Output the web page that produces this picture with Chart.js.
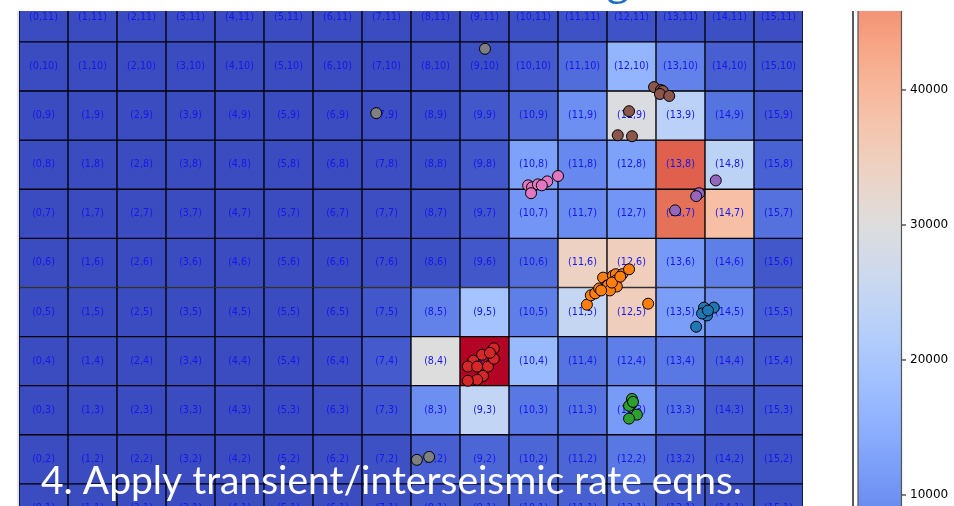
<!DOCTYPE html>
<html>
<head>
<meta charset="utf-8">
<script src="https://cdn.jsdelivr.net/npm/chart.js@4.4.0/dist/chart.umd.min.js"></script>
<style>
  html, body { margin: 0; padding: 0; background: #fff; overflow: hidden; }
</style>
</head>
<body>
<canvas id="grid" width="954" height="506"></canvas>
<script>
// grid columns / rows (row 0 at the bottom)
const COLS = [0, 1, 2, 3, 4, 5, 6, 7, 8, 9, 10, 11, 12, 13, 14, 15];
const ROWS = [0, 1, 2, 3, 4, 5, 6, 7, 8, 9, 10, 11];

// cell values, one array per row, index = column
const row0  = [0, 0, 0, 0, 0, 0, 0, 0, 500, 800, 800, 800, 1000, 500, 300, 0];
const row1  = [0, 0, 0, 0, 0, 0, 0, 300, 1500, 2000, 2500, 2500, 3500, 1500, 800, 500];
const row2  = [0, 0, 0, 0, 0, 0, 300, 700, 2500, 3500, 3500, 3500, 6000, 2500, 1500, 800];
const row3  = [0, 0, 0, 0, 0, 0, 300, 1500, 9500, 24500, 6000, 5500, 11500, 5500, 2000, 1500];
const row4  = [0, 0, 0, 0, 0, 0, 300, 2000, 30000, 60000, 17000, 5500, 7000, 6000, 3500, 2000];
const row5  = [0, 0, 0, 0, 0, 0, 300, 1500, 7500, 19000, 7000, 25000, 35000, 12000, 9500, 2500];
const row6  = [0, 0, 0, 0, 0, 0, 0, 300, 500, 1500, 4500, 34000, 35000, 11000, 7000, 1500];
const row7  = [0, 0, 0, 0, 0, 0, 0, 300, 500, 1500, 10500, 9000, 10500, 50500, 38500, 5000];
const row8  = [0, 0, 0, 0, 0, 0, 0, 300, 500, 1500, 12500, 8500, 12500, 52500, 23500, 3000];
const row9  = [0, 0, 0, 0, 0, 0, 0, 300, 500, 1500, 3500, 9500, 29500, 23000, 5500, 2000];
const row10 = [0, 0, 0, 0, 0, 0, 0, 0, 300, 500, 2000, 4500, 16000, 7500, 2500, 1500];
const row11 = [0, 0, 0, 0, 0, 0, 0, 0, 0, 300, 500, 800, 1000, 800, 500, 300];
const heatRows = [row0, row1, row2, row3, row4, row5, row6, row7, row8, row9, row10, row11];

// colour scale limits and colourbar ticks
const vmin = 0;
const vmax = 60000;
const cbTicks = [10000, 20000, 30000, 40000];

// event clusters [x, y]
const grayPts   = [[9.01, 10.36], [6.79, 9.05], [7.62, 1.99], [7.87, 2.05]];
const brownPts  = [[12.46, 9.58], [12.60, 9.52], [12.64, 9.50], [12.58, 9.44], [12.77, 9.40],
                   [11.95, 9.09], [11.72, 8.60], [12.01, 8.58]];
const pinkPts   = [[9.89, 7.58], [9.97, 7.54], [10.09, 7.60], [10.28, 7.66], [10.50, 7.77],
                   [9.95, 7.42], [10.17, 7.58]];
const purplePts = [[13.72, 7.68], [13.38, 7.42], [13.32, 7.36], [12.89, 7.07]];
const orangePts = [[11.09, 5.15], [11.17, 5.34], [11.26, 5.38], [11.34, 5.48], [11.42, 5.70],
                   [11.50, 5.54], [11.62, 5.74], [11.68, 5.77], [11.52, 5.54], [11.68, 5.64],
                   [11.81, 5.77], [11.95, 5.87], [12.34, 5.17], [11.70, 5.52], [11.56, 5.44],
                   [11.38, 5.44], [11.60, 5.60], [11.77, 5.72]];
const bluePts   = [[13.48, 5.09], [13.68, 5.09], [13.54, 4.93], [13.44, 4.97], [13.32, 4.70],
                   [13.56, 5.03]];
const redPts    = [[9.19, 4.26], [8.95, 4.13], [8.77, 4.01], [8.66, 3.89], [8.85, 3.89],
                   [9.07, 3.89], [9.19, 4.05], [8.97, 3.70], [8.85, 3.62], [8.66, 3.60],
                   [9.11, 4.17]];
const greenPts  = [[12.01, 3.23], [11.99, 3.11], [11.95, 3.09], [12.11, 2.91], [11.95, 2.83],
                   [12.03, 3.17]];

// coolwarm colormap
const CW = [
  [59,76,192],[68,90,204],[77,104,215],[87,117,225],[98,130,234],[108,142,241],[119,154,247],
  [130,165,251],[141,176,254],[152,185,255],[163,194,255],[174,201,253],[184,208,249],
  [194,213,244],[204,217,238],[213,219,230],[221,221,221],[229,216,209],[236,211,197],
  [241,204,185],[245,196,173],[247,187,160],[247,177,148],[247,166,135],[244,154,123],
  [241,141,111],[236,127,99],[229,112,88],[222,96,77],[213,80,66],[203,62,56],[192,40,47],[180,4,38]
];
function coolwarm(t) {
  t = Math.max(0, Math.min(1, t)) * (CW.length - 1);
  const i = Math.min(Math.floor(t), CW.length - 2), f = t - i;
  const c = CW[i].map((v, k) => Math.round(v + (CW[i + 1][k] - v) * f));
  return `rgb(${c[0]},${c[1]},${c[2]})`;
}
const norm = v => (v - vmin) / (vmax - vmin);

// heatmap cells as floating bars
const cellData = [];
const cellColors = [];
ROWS.forEach(r => COLS.forEach(c => {
  cellData.push({ x: c, y: [r - 0.5, r + 0.5] });
  cellColors.push(coolwarm(norm(heatRows[r][c])));
}));

const clusters = [
  [grayPts, '#7f7f7f'], [brownPts, '#8c564b'], [pinkPts, '#e377c2'], [purplePts, '#9467bd'],
  [orangePts, '#ff7f0e'], [bluePts, '#1f77b4'], [redPts, '#d62728'], [greenPts, '#2ca02c']
];

// "(col,row)" text in each cell, drawn under the points
const cellLabels = {
  id: 'cellLabels',
  afterDatasetDraw(chart, args) {
    if (args.index !== 0) return;
    const { ctx, chartArea: a, scales: { x, y } } = chart;
    ctx.save();
    ctx.beginPath();
    ctx.rect(a.left, a.top, a.right - a.left, a.bottom - a.top);
    ctx.clip();
    ctx.font = '9.6px "DejaVu Sans"';
    ctx.fillStyle = '#1616ee';
    ctx.textAlign = 'center';
    ctx.textBaseline = 'middle';
    ROWS.forEach(r => COLS.forEach(c => {
      ctx.fillText(`(${c},${r})`, x.getPixelForValue(c), y.getPixelForValue(r));
    }));
    ctx.restore();
  }
};

// colourbar, slide text and frame lines
const overlay = {
  id: 'overlay',
  afterDraw(chart) {
    const { ctx, chartArea: a } = chart;
    const cb = chart.scales.cb;
    ctx.save();

    // colourbar body
    const g = ctx.createLinearGradient(0, a.top, 0, a.bottom);
    for (let i = 0; i <= 30; i++) {
      const py = a.top + (a.bottom - a.top) * i / 30;
      g.addColorStop(i / 30, coolwarm(norm(cb.getValueForPixel(py))));
    }
    ctx.fillStyle = g;
    ctx.fillRect(858, a.top, 43, a.bottom - a.top);
    ctx.strokeStyle = '#555';
    ctx.lineWidth = 1.2;
    ctx.beginPath();
    ctx.moveTo(858, a.top); ctx.lineTo(858, a.bottom);
    ctx.moveTo(901.5, a.top); ctx.lineTo(901.5, a.bottom);
    ctx.stroke();

    // thin frame line left of the colourbar
    ctx.strokeStyle = '#222';
    ctx.lineWidth = 1.5;
    ctx.beginPath();
    ctx.moveTo(853, a.top); ctx.lineTo(853, a.bottom);
    ctx.stroke();

    // faint image edge on the left
    ctx.strokeStyle = '#c8c8c8';
    ctx.lineWidth = 1;
    ctx.beginPath();
    ctx.moveTo(18, a.top); ctx.lineTo(18, a.bottom);
    ctx.stroke();

    // colourbar ticks
    ctx.strokeStyle = '#000';
    ctx.lineWidth = 1;
    ctx.fillStyle = '#000';
    ctx.font = '12px "DejaVu Sans"';
    ctx.textAlign = 'left';
    ctx.textBaseline = 'middle';
    cbTicks.forEach(v => {
      const py = cb.getPixelForValue(v);
      ctx.beginPath();
      ctx.moveTo(902, py); ctx.lineTo(906, py);
      ctx.stroke();
      ctx.fillText(String(v), 910, py);
    });

    // title, cut off by the top edge
    ctx.fillStyle = '#1f6fc0';
    ctx.font = '40px "Open Sans"';
    ctx.textAlign = 'right';
    ctx.textBaseline = 'alphabetic';
    ctx.fillText('Modeling', 629, -6);

    // slide caption
    ctx.fillStyle = '#ffffff';
    ctx.font = '39px Lato';
    ctx.textAlign = 'left';
    ctx.fillText('4. Apply transient/interseismic rate eqns.', 41, 494, 708);

    ctx.restore();
  }
};

new Chart(document.getElementById('grid'), {
  type: 'scatter',
  data: {
    datasets: [
      {
        type: 'bar',
        data: cellData,
        backgroundColor: cellColors,
        borderColor: '#000',
        borderWidth: 1,
        borderSkipped: false,
        barPercentage: 1,
        categoryPercentage: 1,
        clip: 0,
        order: 1
      },
      ...clusters.map(([pts, color]) => ({
        data: pts,
        backgroundColor: color,
        borderColor: '#000',
        borderWidth: 1,
        pointRadius: 5.5,
        order: 0
      }))
    ]
  },
  options: {
    responsive: false,
    animation: false,
    events: [],
    layout: { autoPadding: false, padding: { left: 19, top: 11, right: 151, bottom: 0 } },
    plugins: {
      legend: { display: false },
      tooltip: { enabled: false }
    },
    scales: {
      x: {
        type: 'linear', min: -0.5, max: 15.5, display: false, offset: false,
        afterBuildTicks: s => { s.ticks = COLS.map(v => ({ value: v })); }
      },
      y: { type: 'linear', min: 1.05, max: 11.13, display: false },
      cb: { type: 'linear', position: 'right', min: 9185, max: 45852, display: false }
    }
  },
  plugins: [cellLabels, overlay]
});
</script>
</body>
</html>
